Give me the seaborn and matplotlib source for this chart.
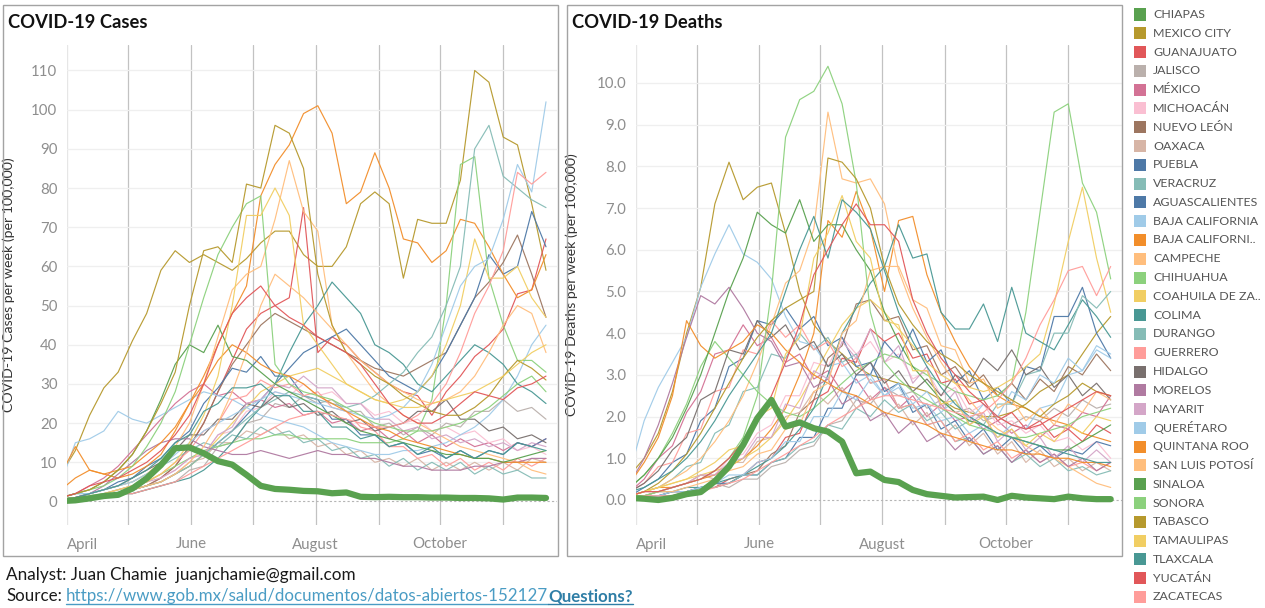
import numpy as np
import pandas as pd
import seaborn as sns
import matplotlib.pyplot as plt
from matplotlib.patches import Rectangle
from matplotlib.lines import Line2D

sns.set_style("white")
plt.rcParams['font.family'] = ['Lato', 'DejaVu Sans']

# weekly points, Sunday Mar 29 .. Nov 22 2020
weeks = pd.date_range("2020-03-29", periods=35, freq="7D")

# ---- cases per week per 100k ----
chiapas_cases = [0.1, 0.3, 0.8, 1.4, 1.7, 3.3, 5.9, 9.3, 13.6, 13.8, 12.3, 10.3, 9.4, 6.8, 4.0, 3.2, 3.0, 2.7, 2.6, 2.1, 2.3, 1.2, 1.1, 1.2, 1.1, 1.1, 1.0, 1.0, 0.9, 0.9, 0.8, 0.5, 1.0, 1.0, 0.9]
mexico_city_cases = [7, 13, 22, 29, 33, 41, 48, 59, 64, 61, 63, 61, 59, 62, 66, 69, 69, 63, 60, 60, 65, 76, 79, 76, 57, 72, 71, 71, 82, 110, 107, 93, 91, 76, 59]
guanajuato_cases = [0.5, 1, 1, 2, 2, 3, 4, 6, 9, 14, 20, 28, 36, 44, 48, 50, 52, 75, 38, 42, 40, 36, 33, 30, 28, 27, 22, 28, 32, 37, 40, 44, 53, 54, 67]
jalisco_cases = [0.5, 1, 1, 1, 2, 2, 3, 4, 5, 8, 9, 14, 15, 20, 21, 25, 24, 27, 25, 26, 23, 23, 19, 20, 17, 19, 17, 20, 19, 23, 23, 26, 23, 24, 21]
mexico_cases = [1, 2, 4, 6, 9, 13, 17, 21, 25, 28, 30, 27, 28, 25, 26, 24, 25, 22, 23, 20, 21, 18, 19, 16, 18, 15, 17, 14, 16, 14, 15, 13, 15, 14, 16]
michoacan_cases = [0.5, 1, 1, 1, 2, 3, 4, 6, 8, 11, 12, 17, 18, 23, 24, 28, 27, 30, 27, 28, 25, 25, 22, 23, 20, 21, 18, 19, 17, 18, 15, 16, 13, 14, 12]
nuevo_leon_cases = [0.5, 1, 1, 1.5, 2, 3, 4, 6, 9, 14, 20, 28, 35, 40, 45, 48, 46, 44, 42, 40, 38, 36, 34, 33, 32, 34, 36, 38, 45, 52, 56, 61, 68, 58, 47]
oaxaca_cases = [0.3, 0.5, 1, 1, 2, 3, 4, 5, 7, 10, 11, 15, 15, 18, 17, 19, 16, 17, 14, 15, 12, 13, 10, 11, 9, 11, 8, 10, 8, 10, 8, 10, 8, 11, 10]
puebla_cases = [0.5, 1, 2, 3, 5, 6, 9, 11, 15, 18, 25, 29, 34, 33, 37, 32, 32, 27, 26, 21, 21, 17, 17, 14, 15, 12, 13, 11, 13, 11, 13, 12, 15, 14, 16]
veracruz_cases = [1, 2, 2, 3, 4, 5, 7, 9, 11, 13, 15, 14, 17, 16, 19, 17, 18, 15, 16, 13, 14, 11, 12, 9, 11, 8, 10, 8, 10, 7, 9, 7, 8, 6, 6]
aguascalientes_cases = [0.5, 1, 1, 2, 2, 3, 4, 5, 7, 9, 12, 15, 18, 22, 26, 30, 34, 38, 40, 42, 44, 40, 36, 32, 30, 28, 32, 38, 45, 52, 63, 58, 60, 74, 65]
baja_california_cases = [5, 15, 16, 18, 23, 21, 20, 22, 24, 26, 28, 27, 26, 24, 22, 21, 20, 19, 17, 15, 14, 13, 12, 12, 13, 13, 14, 15, 17, 19, 22, 26, 32, 40, 45]
baja_california_sur_cases = [3, 6, 8, 7, 6, 7, 9, 12, 18, 25, 32, 40, 48, 55, 78, 86, 91, 99, 101, 94, 76, 79, 89, 80, 67, 66, 61, 64, 72, 71, 65, 58, 52, 54, 63]
campeche_cases = [0.5, 1, 2, 3, 4, 5, 7, 10, 14, 20, 30, 42, 54, 58, 60, 72, 87, 74, 69, 45, 38, 33, 28, 25, 22, 20, 18, 16, 14, 13, 12, 11, 10, 8, 7]
chihuahua_cases = [0.5, 1, 1.5, 2, 3, 4, 5, 7, 9, 11, 13, 14, 15, 16, 16, 17, 17, 16, 16, 16, 16, 15, 15, 15, 16, 18, 26, 50, 86, 88, 57, 45, 36, 36, 33]
coahuila_cases = [0.5, 1, 1, 2, 2, 3, 4, 5, 7, 9, 12, 16, 20, 24, 28, 30, 32, 33, 34, 32, 30, 28, 26, 25, 26, 28, 32, 40, 50, 67, 57, 57, 60, 52, 47]
colima_cases = [0.5, 1, 1, 1, 2, 2, 3, 4, 5, 6, 8, 11, 15, 20, 24, 30, 38, 45, 50, 56, 52, 48, 40, 38, 35, 30, 28, 32, 36, 40, 38, 35, 30, 28, 25]
durango_cases = [0.5, 1, 1, 2, 2, 3, 4, 5, 7, 9, 12, 15, 18, 21, 24, 26, 28, 27, 26, 25, 24, 25, 27, 30, 33, 38, 42, 50, 60, 90, 96, 83, 80, 77, 75]
guerrero_cases = [0.5, 1, 1, 2, 3, 4, 5, 7, 10, 13, 18, 20, 26, 27, 31, 29, 30, 27, 28, 24, 23, 19, 18, 14, 14, 11, 12, 9, 11, 8, 10, 8, 11, 9, 11]
hidalgo_cases = [0.5, 1, 2, 3, 4, 6, 8, 10, 13, 17, 17, 21, 21, 25, 24, 27, 24, 25, 22, 23, 20, 21, 18, 19, 20, 23, 23, 26, 21, 21, 18, 19, 16, 17, 15]
morelos_cases = [0.5, 1, 2, 4, 7, 10, 13, 15, 16, 16, 14, 13, 12, 12, 13, 12, 11, 12, 13, 12, 12, 11, 11, 10, 9, 9, 8, 8, 8, 9, 9, 10, 10, 11, 11]
nayarit_cases = [0.5, 1, 1, 2, 3, 4, 5, 6, 8, 11, 12, 17, 19, 25, 26, 30, 29, 32, 29, 29, 25, 25, 21, 21, 18, 19, 16, 17, 15, 16, 14, 15, 13, 15, 14]
queretaro_cases = [1, 2, 2, 3, 4, 5, 7, 9, 12, 15, 18, 20, 22, 24, 26, 28, 27, 26, 25, 24, 23, 22, 21, 22, 24, 28, 35, 45, 55, 60, 62, 72, 86, 79, 102]
quintana_roo_cases = [7, 14, 8, 7, 8, 9, 12, 15, 19, 25, 30, 36, 40, 38, 35, 33, 32, 30, 27, 25, 23, 21, 19, 18, 16, 15, 14, 13, 12, 11, 11, 10, 10, 10, 10]
san_luis_potosi_cases = [0.5, 1, 1, 2, 2, 3, 4, 5, 7, 10, 14, 20, 28, 38, 50, 58, 55, 52, 48, 44, 40, 36, 33, 30, 28, 26, 25, 26, 28, 32, 38, 45, 50, 48, 38]
sinaloa_cases = [1, 2, 3, 5, 8, 12, 18, 26, 35, 40, 38, 45, 37, 36, 33, 30, 28, 26, 24, 22, 20, 18, 17, 16, 15, 14, 13, 12, 12, 11, 11, 10, 11, 12, 13]
sonora_cases = [1, 2, 3, 4, 6, 9, 14, 20, 28, 40, 52, 63, 70, 76, 78, 35, 30, 28, 27, 26, 24, 22, 20, 19, 18, 18, 18, 19, 20, 22, 24, 27, 30, 32, 28]
tabasco_cases = [1, 2, 3, 5, 8, 12, 18, 25, 33, 50, 64, 65, 61, 81, 80, 96, 94, 85, 58, 45, 38, 35, 32, 30, 27, 25, 23, 22, 22, 24, 27, 32, 36, 34, 31]
tamaulipas_cases = [0.5, 1, 1, 2, 3, 4, 5, 7, 10, 15, 22, 32, 50, 73, 73, 80, 73, 45, 40, 35, 30, 28, 26, 25, 24, 24, 25, 26, 27, 28, 30, 32, 35, 38, 40]
tlaxcala_cases = [0.5, 1, 2, 3, 4, 6, 8, 11, 15, 17, 23, 25, 29, 29, 30, 27, 27, 23, 23, 19, 19, 16, 17, 14, 15, 12, 14, 11, 13, 11, 13, 12, 15, 14, 13]
yucatan_cases = [1, 2, 4, 5, 6, 8, 10, 13, 17, 22, 30, 40, 48, 52, 55, 50, 47, 45, 42, 40, 38, 35, 30, 25, 22, 20, 20, 22, 25, 28, 27, 26, 29, 30, 32]
zacatecas_cases = [0.3, 0.5, 1, 1, 2, 2, 3, 4, 5, 7, 9, 11, 13, 15, 17, 19, 21, 22, 23, 22, 21, 20, 19, 19, 20, 22, 25, 30, 38, 48, 55, 64, 84, 81, 84]

# ---- deaths per week per 100k ----
chiapas_deaths = [0.05, 0.03, 0.0, 0.05, 0.14, 0.19, 0.45, 0.8, 1.32, 1.96, 2.4, 1.76, 1.86, 1.72, 1.64, 1.4, 0.64, 0.68, 0.48, 0.43, 0.24, 0.14, 0.1, 0.06, 0.07, 0.08, 0.0, 0.1, 0.06, 0.04, 0.02, 0.08, 0.04, 0.02, 0.02]
mexico_city_deaths = [0.6, 1.0, 1.6, 2.6, 4.0, 5.1, 7.1, 8.1, 7.2, 7.5, 7.6, 6.4, 5.0, 4.2, 3.8, 3.5, 3.2, 3.0, 2.9, 2.8, 2.7, 2.6, 2.4, 2.2, 2.1, 2.0, 2.0, 2.1, 2.3, 2.6, 2.8, 3.0, 3.5, 4.0, 4.4]
guanajuato_deaths = [0.0, 0.1, 0.1, 0.2, 0.2, 0.3, 0.3, 0.5, 0.6, 0.9, 1.0, 1.5, 1.6, 2.4, 2.6, 3.4, 3.3, 4.1, 3.8, 4.0, 3.4, 3.5, 2.8, 2.9, 2.3, 2.4, 1.9, 2.1, 1.7, 1.9, 1.5, 1.7, 1.4, 1.8, 1.6]
jalisco_deaths = [0.0, 0.1, 0.1, 0.2, 0.2, 0.2, 0.4, 0.3, 0.5, 0.5, 0.8, 0.9, 1.2, 1.3, 1.8, 1.9, 2.4, 2.3, 2.7, 2.5, 2.6, 2.2, 2.4, 2.1, 2.2, 1.9, 2.0, 1.8, 2.0, 1.9, 2.2, 2.0, 2.4, 2.2, 2.3]
mexico_deaths = [0.2, 0.5, 1.0, 1.3, 2.1, 2.6, 3.5, 3.6, 4.2, 3.7, 3.9, 3.3, 3.5, 2.9, 3.1, 2.6, 2.9, 2.4, 2.7, 2.2, 2.5, 2.0, 2.3, 1.9, 2.0, 1.7, 1.9, 1.6, 1.8, 1.5, 1.8, 1.7, 2.1, 2.0, 2.5]
michoacan_deaths = [0.1, 0.1, 0.2, 0.3, 0.4, 0.6, 0.6, 1.0, 1.1, 1.6, 1.8, 2.5, 2.5, 3.3, 3.2, 3.9, 3.5, 3.8, 3.3, 3.5, 2.9, 3.1, 2.5, 2.7, 2.1, 2.3, 1.8, 1.9, 1.6, 1.8, 1.4, 1.5, 1.2, 1.4, 1.0]
nuevo_leon_deaths = [0.0, 0.1, 0.1, 0.1, 0.2, 0.3, 0.3, 0.4, 0.6, 0.7, 1.1, 1.3, 2.1, 2.4, 3.4, 3.7, 4.7, 4.8, 4.3, 4.4, 3.6, 3.7, 3.0, 3.2, 2.7, 3.0, 2.5, 2.8, 2.4, 2.9, 2.6, 3.2, 3.0, 3.5, 3.1]
oaxaca_deaths = [0.1, 0.1, 0.2, 0.3, 0.4, 0.6, 0.5, 0.9, 0.9, 1.4, 1.5, 2.0, 2.1, 2.6, 2.3, 2.7, 2.2, 2.5, 2.0, 2.3, 1.8, 2.1, 1.5, 1.8, 1.3, 1.6, 1.1, 1.4, 0.9, 1.2, 0.8, 1.0, 0.7, 0.9, 0.7]
puebla_deaths = [0.1, 0.3, 0.5, 0.9, 1.1, 1.9, 2.2, 3.2, 3.4, 4.3, 4.2, 4.6, 4.1, 4.4, 3.7, 3.9, 3.2, 3.3, 2.6, 2.8, 2.1, 2.3, 1.7, 1.9, 1.4, 1.7, 1.2, 1.5, 1.1, 1.3, 1.0, 1.2, 1.1, 1.4, 1.3]
veracruz_deaths = [0.1, 0.2, 0.3, 0.5, 0.8, 0.9, 1.6, 1.8, 2.6, 2.7, 3.5, 3.4, 4.0, 3.6, 3.9, 3.3, 3.5, 2.8, 2.9, 2.2, 2.3, 1.8, 1.9, 1.4, 1.5, 1.1, 1.3, 0.9, 1.1, 0.8, 1.0, 0.7, 0.8, 0.6, 0.7]
aguascalientes_deaths = [0.1, 0.1, 0.1, 0.2, 0.2, 0.3, 0.4, 0.4, 0.6, 0.6, 0.9, 1.0, 1.5, 1.5, 2.2, 2.2, 3.0, 3.0, 3.8, 3.4, 4.1, 3.3, 3.6, 2.8, 3.1, 2.4, 2.7, 2.3, 3.2, 3.1, 4.4, 4.4, 5.1, 4.0, 3.4]
baja_california_deaths = [0.7, 1.9, 2.7, 3.3, 3.9, 5.1, 5.9, 6.6, 5.9, 5.7, 5.3, 4.4, 3.8, 3.7, 3.2, 3.3, 2.8, 3.0, 2.5, 2.7, 2.2, 2.3, 1.9, 2.0, 1.6, 1.8, 1.5, 1.8, 1.7, 2.2, 2.3, 3.0, 3.1, 3.7, 3.5]
baja_california_sur_deaths = [0.1, 0.2, 0.3, 0.3, 0.4, 0.5, 0.6, 0.8, 1.0, 1.3, 1.7, 2.2, 3.0, 4.0, 6.7, 6.3, 7.4, 6.5, 5.0, 6.7, 6.8, 5.4, 4.5, 3.8, 3.2, 2.8, 2.5, 2.3, 2.2, 2.0, 1.9, 1.8, 1.6, 1.5, 1.4]
campeche_deaths = [0.1, 0.2, 0.3, 0.5, 0.7, 1.0, 1.4, 1.9, 2.5, 3.3, 4.2, 5.2, 5.5, 6.5, 9.3, 7.7, 7.6, 7.7, 7.1, 5.5, 4.6, 3.9, 3.3, 2.8, 2.4, 2.0, 1.7, 1.5, 1.3, 1.1, 1.0, 0.8, 0.6, 0.4, 0.3]
chihuahua_deaths = [0.3, 0.6, 1.0, 1.6, 2.3, 3.2, 3.8, 3.4, 3.0, 2.6, 2.3, 2.1, 2.0, 2.2, 2.5, 2.8, 3.1, 3.3, 3.5, 3.4, 3.2, 3.0, 2.8, 2.6, 2.5, 2.4, 2.5, 2.8, 4.5, 6.9, 9.3, 9.5, 7.6, 6.9, 5.3]
coahuila_deaths = [0.1, 0.2, 0.3, 0.4, 0.5, 0.6, 0.7, 0.8, 1.0, 1.2, 1.5, 1.9, 2.4, 3.0, 3.6, 4.2, 4.6, 4.8, 4.5, 4.1, 3.7, 3.3, 3.0, 2.8, 2.7, 2.6, 2.7, 2.9, 3.2, 3.5, 4.7, 6.2, 7.5, 5.8, 4.5]
colima_deaths = [0.1, 0.1, 0.2, 0.2, 0.3, 0.3, 0.4, 0.5, 0.6, 0.8, 1.0, 1.3, 1.7, 2.2, 3.0, 4.0, 4.6, 5.2, 5.6, 6.6, 5.8, 5.9, 4.5, 4.1, 4.1, 4.7, 3.8, 5.1, 4.0, 3.8, 3.6, 4.2, 4.8, 4.4, 3.9]
durango_deaths = [0.0, 0.1, 0.1, 0.1, 0.2, 0.3, 0.3, 0.4, 0.6, 0.6, 0.9, 1.0, 1.3, 1.4, 1.8, 1.7, 2.2, 2.0, 2.4, 2.1, 2.3, 1.9, 2.1, 1.7, 1.9, 1.8, 2.3, 2.3, 3.0, 3.1, 4.0, 4.0, 4.9, 4.6, 5.0]
guerrero_deaths = [0.2, 0.4, 0.8, 0.9, 1.6, 1.7, 2.6, 2.7, 3.6, 3.5, 4.3, 3.9, 4.2, 3.6, 3.8, 3.2, 3.4, 2.8, 2.9, 2.2, 2.3, 1.8, 1.9, 1.4, 1.6, 1.2, 1.4, 1.0, 1.2, 0.9, 1.1, 0.8, 0.9, 0.7, 0.9]
hidalgo_deaths = [0.2, 0.4, 0.7, 1.2, 1.5, 2.4, 2.6, 3.6, 3.5, 4.3, 3.9, 4.2, 3.6, 3.8, 3.2, 3.5, 3.0, 3.3, 2.8, 3.1, 2.6, 2.9, 2.5, 3.0, 2.8, 3.4, 3.1, 3.6, 3.0, 3.2, 2.7, 3.0, 2.5, 2.8, 2.4]
morelos_deaths = [0.4, 1.0, 1.8, 2.8, 3.9, 4.9, 4.7, 5.1, 4.6, 4.0, 3.8, 3.2, 3.3, 2.7, 2.9, 2.3, 2.5, 1.9, 2.1, 1.6, 1.9, 1.4, 1.6, 1.2, 1.5, 1.1, 1.3, 0.9, 1.2, 0.9, 1.1, 0.8, 1.0, 0.7, 0.9]
nayarit_deaths = [0.1, 0.2, 0.2, 0.3, 0.4, 0.6, 0.6, 0.9, 1.0, 1.5, 1.5, 2.3, 2.2, 3.1, 2.9, 3.8, 3.4, 4.1, 3.3, 3.7, 2.8, 3.2, 2.2, 2.6, 1.8, 2.1, 1.4, 1.7, 1.2, 1.5, 1.0, 1.3, 0.9, 1.2, 0.9]
queretaro_deaths = [0.0, 0.1, 0.1, 0.2, 0.2, 0.3, 0.4, 0.6, 0.6, 0.9, 1.0, 1.4, 1.4, 2.0, 2.0, 2.6, 2.4, 2.9, 2.5, 2.8, 2.3, 2.6, 2.1, 2.4, 1.9, 2.3, 2.0, 2.6, 2.4, 3.0, 2.8, 3.4, 3.1, 3.6, 3.4]
quintana_roo_deaths = [0.4, 0.9, 1.5, 2.5, 4.3, 3.7, 3.4, 3.6, 3.8, 4.2, 4.0, 3.6, 3.3, 3.0, 2.8, 2.6, 2.5, 2.3, 2.1, 2.0, 1.9, 1.8, 1.6, 1.5, 1.4, 1.3, 1.2, 1.2, 1.1, 1.1, 1.0, 1.0, 0.9, 0.9, 0.8]
san_luis_potosi_deaths = [0.1, 0.1, 0.2, 0.2, 0.3, 0.4, 0.5, 0.7, 0.8, 1.1, 1.2, 1.7, 1.8, 2.6, 2.8, 4.0, 4.3, 5.5, 5.6, 5.6, 4.8, 4.6, 3.7, 3.6, 2.8, 2.9, 2.2, 2.4, 1.9, 2.2, 1.8, 2.3, 2.1, 2.6, 2.4]
sinaloa_deaths = [0.3, 0.6, 1.0, 1.5, 2.2, 3.0, 4.0, 5.0, 5.8, 6.9, 6.6, 6.4, 7.2, 6.2, 6.6, 6.6, 6.0, 5.5, 4.5, 3.8, 3.2, 2.8, 2.4, 2.1, 1.9, 1.8, 1.6, 1.5, 1.4, 1.3, 1.2, 1.2, 1.4, 1.6, 1.8]
sonora_deaths = [0.1, 0.1, 0.2, 0.3, 0.4, 0.5, 0.7, 1.0, 1.5, 2.5, 5.0, 8.7, 9.6, 9.8, 10.4, 9.5, 7.6, 4.5, 3.3, 2.9, 2.6, 2.4, 2.2, 2.0, 1.8, 1.7, 1.6, 1.5, 1.5, 1.6, 1.7, 1.8, 2.0, 2.1, 2.2]
tabasco_deaths = [0.1, 0.2, 0.4, 0.7, 1.1, 1.6, 2.2, 2.8, 3.4, 3.9, 4.3, 4.6, 4.8, 5.0, 8.2, 8.1, 7.7, 7.0, 5.6, 4.7, 4.2, 3.8, 3.5, 3.3, 3.0, 2.8, 2.6, 2.4, 2.2, 2.0, 2.3, 2.5, 2.8, 2.6, 2.5]
tamaulipas_deaths = [0.1, 0.2, 0.3, 0.4, 0.5, 0.7, 0.9, 1.2, 1.3, 2.0, 2.2, 3.5, 3.9, 5.8, 6.4, 7.3, 6.2, 5.8, 4.3, 4.2, 3.1, 3.1, 2.3, 2.4, 1.8, 2.0, 1.5, 1.7, 1.3, 1.6, 1.4, 1.8, 1.6, 2.0, 1.9]
tlaxcala_deaths = [0.2, 0.3, 0.5, 0.7, 1.0, 1.4, 1.9, 2.5, 3.0, 3.5, 4.0, 5.0, 6.0, 6.8, 5.8, 7.2, 6.9, 6.5, 5.5, 4.5, 3.8, 3.2, 2.7, 2.3, 2.0, 1.8, 1.6, 1.5, 1.4, 1.3, 1.2, 1.1, 1.0, 0.9, 0.9]
yucatan_deaths = [0.1, 0.2, 0.2, 0.3, 0.4, 0.5, 0.7, 1.0, 1.4, 1.9, 2.5, 3.3, 4.2, 5.4, 6.0, 6.6, 7.1, 6.6, 6.6, 6.2, 4.8, 4.0, 3.4, 3.0, 2.6, 2.3, 2.0, 1.8, 1.7, 1.8, 2.0, 2.2, 2.4, 2.6, 2.5]
zacatecas_deaths = [0.0, 0.1, 0.1, 0.1, 0.2, 0.2, 0.3, 0.4, 0.5, 0.7, 0.9, 1.1, 1.3, 1.5, 1.8, 2.0, 2.2, 2.4, 2.5, 2.5, 2.4, 2.3, 2.2, 2.1, 2.0, 2.1, 2.4, 2.8, 3.4, 4.2, 4.8, 5.5, 5.6, 4.9, 5.6]

states = ["CHIAPAS", "MEXICO CITY", "GUANAJUATO", "JALISCO", "MÉXICO", "MICHOACÁN",
          "NUEVO LEÓN", "OAXACA", "PUEBLA", "VERACRUZ", "AGUASCALIENTES",
          "BAJA CALIFORNIA", "BAJA CALIFORNIA SUR", "CAMPECHE", "CHIHUAHUA",
          "COAHUILA DE ZARAGOZA", "COLIMA", "DURANGO", "GUERRERO", "HIDALGO",
          "MORELOS", "NAYARIT", "QUERÉTARO", "QUINTANA ROO", "SAN LUIS POTOSÍ",
          "SINALOA", "SONORA", "TABASCO", "TAMAULIPAS", "TLAXCALA", "YUCATÁN", "ZACATECAS"]
legend_labels = [s if len(s) < 17 else s[:14] + ".." for s in states]
state_colors = ["#59a14f", "#b6992d", "#e15759", "#bab0ac", "#d37295", "#fabfd2",
                "#9d7660", "#d7b5a6", "#4e79a7", "#86bcb6", "#4e79a7",
                "#a0cbe8", "#f28e2b", "#ffbe7d", "#8cd17d",
                "#f1ce63", "#499894", "#86bcb6", "#ff9d9a", "#79706e",
                "#b07aa1", "#d4a6c8", "#a0cbe8", "#f28e2b", "#ffbe7d",
                "#59a14f", "#8cd17d", "#b6992d", "#f1ce63", "#499894", "#e15759", "#ff9d9a"]

cases = [chiapas_cases, mexico_city_cases, guanajuato_cases, jalisco_cases, mexico_cases,
         michoacan_cases, nuevo_leon_cases, oaxaca_cases, puebla_cases, veracruz_cases,
         aguascalientes_cases, baja_california_cases, baja_california_sur_cases,
         campeche_cases, chihuahua_cases, coahuila_cases, colima_cases, durango_cases,
         guerrero_cases, hidalgo_cases, morelos_cases, nayarit_cases, queretaro_cases,
         quintana_roo_cases, san_luis_potosi_cases, sinaloa_cases, sonora_cases,
         tabasco_cases, tamaulipas_cases, tlaxcala_cases, yucatan_cases, zacatecas_cases]
deaths = [chiapas_deaths, mexico_city_deaths, guanajuato_deaths, jalisco_deaths, mexico_deaths,
          michoacan_deaths, nuevo_leon_deaths, oaxaca_deaths, puebla_deaths, veracruz_deaths,
          aguascalientes_deaths, baja_california_deaths, baja_california_sur_deaths,
          campeche_deaths, chihuahua_deaths, coahuila_deaths, colima_deaths, durango_deaths,
          guerrero_deaths, hidalgo_deaths, morelos_deaths, nayarit_deaths, queretaro_deaths,
          quintana_roo_deaths, san_luis_potosi_deaths, sinaloa_deaths, sonora_deaths,
          tabasco_deaths, tamaulipas_deaths, tlaxcala_deaths, yucatan_deaths, zacatecas_deaths]

df = pd.concat([pd.DataFrame({"week": weeks, "state": s, "cases": c, "deaths": d})
                for s, c, d in zip(states, cases, deaths)], ignore_index=True)
palette = dict(zip(states, state_colors))

W, H = 1265, 608
fig = plt.figure(figsize=(W / 100, H / 100), dpi=100)


def fx(px):
    return px / W


def fy(py):
    return 1 - py / H


def draw_panel(rect, col, yticks, fmt, ylim, ylabel, label_x):
    ax = fig.add_axes(rect)
    others = [s for s in states if s != "CHIAPAS"]
    sns.lineplot(data=df[df.state != "CHIAPAS"], x="week", y=col, hue="state",
                 hue_order=others, palette=palette, linewidth=0.85, alpha=0.95,
                 estimator=None, legend=False, ax=ax)
    sns.lineplot(data=df[df.state == "CHIAPAS"], x="week", y=col, color="#59a14f",
                 linewidth=4.5, estimator=None, legend=False, ax=ax,
                 solid_capstyle="round", solid_joinstyle="round")
    ax.set_xlim(pd.Timestamp("2020-04-01"), pd.Timestamp("2020-11-27 12:00"))
    ax.set_ylim(*ylim)
    for sp in ax.spines.values():
        sp.set_visible(False)
    ax.axvline(pd.Timestamp("2020-04-01"), color="#e6e6e6", lw=1, zorder=0)
    for m in pd.date_range("2020-05-01", "2020-11-01", freq="MS"):
        ax.axvline(m, color="#c2c2c2", lw=0.9, zorder=0)
    for t in yticks[1:]:
        ax.axhline(t, color="#efefef", lw=0.9, zorder=0)
    ax.axhline(0, color="#b5b5b5", lw=0.8, ls=(0, (2, 2)), zorder=0)
    ax.set_yticks(yticks)
    ax.set_yticklabels([fmt.format(t) for t in yticks])
    xt = [pd.Timestamp(d) for d in ["2020-04-01", "2020-06-01", "2020-08-01", "2020-10-01"]]
    ax.set_xticks(xt)
    labs = ax.set_xticklabels(["April", "June", "August", "October"])
    labs[0].set_ha("left")
    ax.tick_params(axis="both", length=0, labelcolor="#8e8e8e", labelsize=10.8)
    ax.tick_params(axis="x", pad=9)
    ax.tick_params(axis="y", pad=7)
    ax.set_xlabel("")
    ax.set_ylabel(ylabel, fontsize=10.2, color="#333333")
    ax.yaxis.set_label_coords(label_x, 0.5)
    return ax


ax1 = draw_panel([fx(67.2), fy(525), fx(490), 480 / H], "cases", list(range(0, 111, 10)),
                 "{:d}", (-6, 116.5), "COVID-19 Cases per week (per 100,000)", -0.107)
ax2 = draw_panel([fx(636.1), fy(525), fx(485.7), 480 / H], "deaths", [float(v) for v in range(0, 11)],
                 "{:.1f}", (-0.6, 10.91), "COVID-19 Deaths per week (per 100,000)", -0.12)

# panel frames
for x0, x1 in [(3, 558), (567, 1122)]:
    fig.add_artist(Rectangle((fx(x0), fy(556)), fx(x1 - x0), 551 / H, transform=fig.transFigure,
                             fill=False, ec="#a3a3a3", lw=1))

fig.text(fx(8), fy(22), "COVID-19 Cases", fontsize=13.2, fontweight="bold", va="center", color="#111111")
fig.text(fx(572), fy(22), "COVID-19 Deaths", fontsize=13.2, fontweight="bold", va="center", color="#111111")

# legend
for i, (lab, colr) in enumerate(zip(legend_labels, state_colors)):
    yc = 14.5 + i * 18.79
    fig.add_artist(Rectangle((fx(1134), fy(yc + 6)), fx(12), 12 / H, transform=fig.transFigure,
                             fc=colr, ec="none"))
    fig.text(fx(1153), fy(yc), lab, fontsize=8.9, color="#555555", va="center")

# footer
fig.text(fx(6), fy(580), "Analyst: Juan Chamie  juanjchamie@gmail.com", fontsize=12.3,
         color="#1a1a1a", va="baseline")
src = fig.text(fx(6), fy(601), "Source:", fontsize=12.2, color="#1a1a1a", va="baseline")
link = fig.text(0, fy(601), "https://www.gob.mx/salud/documentos/datos-abiertos-152127",
                fontsize=12.2, color="#4a9cc4", va="baseline")
q = fig.text(0, fy(601), "Questions?", fontsize=12.2, color="#2f7ea6", fontweight="bold", va="baseline")
fig.canvas.draw()
r = fig.canvas.get_renderer()
b = src.get_window_extent(r)
link.set_x((b.x1 + 4) / W)
fig.canvas.draw()
b2 = link.get_window_extent(r)
q.set_x(b2.x1 / W)
fig.canvas.draw()
b3 = q.get_window_extent(r)
for bb, c in [(b2, "#4a9cc4"), (b3, "#2f7ea6")]:
    yline = (H - 604) / H
    fig.add_artist(Line2D([bb.x0 / W, bb.x1 / W], [yline, yline], transform=fig.transFigure,
                          color=c, lw=1))

fig.savefig("out.png", dpi=100)
